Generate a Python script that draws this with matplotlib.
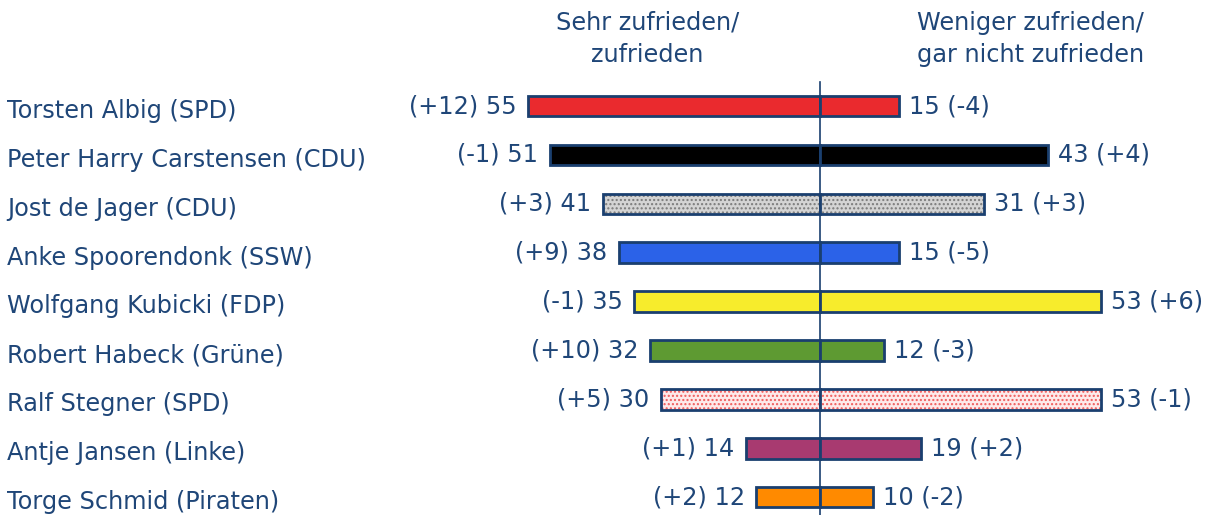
import matplotlib.pyplot as plt
from matplotlib.transforms import blended_transform_factory

# Zufriedenheit mit Politikern (Werte und Veränderung)
names = ["Torsten Albig (SPD)", "Peter Harry Carstensen (CDU)", "Jost de Jager (CDU)",
         "Anke Spoorendonk (SSW)", "Wolfgang Kubicki (FDP)", "Robert Habeck (Grüne)",
         "Ralf Stegner (SPD)", "Antje Jansen (Linke)", "Torge Schmid (Piraten)"]
zufrieden = [55, 51, 41, 38, 35, 32, 30, 14, 12]
zufrieden_diff = ["+12", "-1", "+3", "+9", "-1", "+10", "+5", "+1", "+2"]
unzufrieden = [15, 43, 31, 15, 53, 12, 53, 19, 10]
unzufrieden_diff = ["-4", "+4", "+3", "-5", "+6", "-3", "-1", "+2", "-2"]

colors = ["#ea2a2e", "#000000", "#d4d4d4", "#2b62e8", "#f7ec2c", "#5e9a32",
          "#fdeaea", "#a83a70", "#ff8a00"]
hatch_colors = [None, None, "#7a7a7a", None, None, None, "#f05a5a", None, None]

text_col = "#1f4678"
edge_col = "#1a3f6f"
fs = 17.3

fig = plt.figure(figsize=(12.1, 5.15), dpi=100)
ax = fig.add_axes([0, 0, 1, 1])
ax.set_xlim(-154.7, 73.6)
ax.set_ylim(8.364, -2.168)
ax.axis("off")

h = 0.42
for i in range(len(names)):
    hc = hatch_colors[i]
    for left, w in [(-zufrieden[i], zufrieden[i]), (0, unzufrieden[i])]:
        if hc:
            ax.barh(i, w, left=left, height=h, color=colors[i], hatch="....",
                    edgecolor=hc, linewidth=0)
            ax.barh(i, w, left=left, height=h, fill=False, edgecolor=edge_col,
                    linewidth=2)
        else:
            ax.barh(i, w, left=left, height=h, color=colors[i],
                    edgecolor=edge_col, linewidth=2)
    ax.text(-zufrieden[i] - 2.2, i, f"({zufrieden_diff[i]}) {zufrieden[i]}",
            ha="right", va="center", fontsize=fs, color=text_col)
    ax.text(unzufrieden[i] + 1.9, i, f"{unzufrieden[i]} ({unzufrieden_diff[i]})",
            ha="left", va="center", fontsize=fs, color=text_col)

trans = blended_transform_factory(fig.transFigure, ax.transData)
for i, n in enumerate(names):
    ax.text(7 / 1210, i + 0.1, n, transform=trans, ha="left", va="center",
            fontsize=fs, color=text_col)

ax.plot([0, 0], [-0.49, 8.4], color=edge_col, linewidth=1.2)

ax.text(-32.5, -1.37, "Sehr zufrieden/\nzufrieden", ha="center", va="center",
        fontsize=fs, color=text_col, linespacing=1.45)
ax.text(39.8, -1.37, "Weniger zufrieden/\ngar nicht zufrieden", ha="center",
        va="center", fontsize=fs, color=text_col, linespacing=1.45)

fig.savefig("out.png", dpi=100)
